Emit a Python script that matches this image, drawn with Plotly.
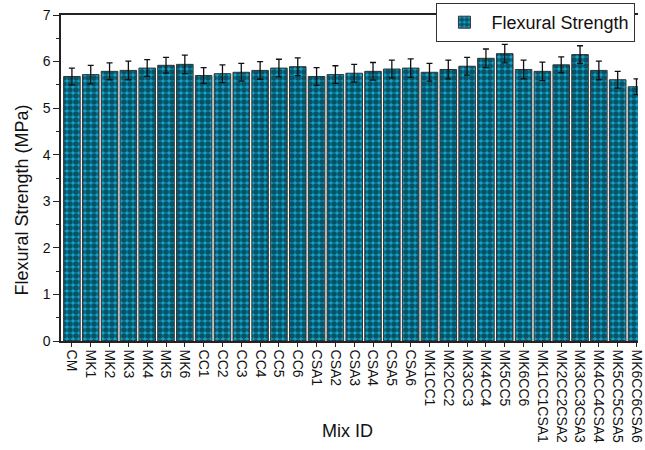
import plotly.graph_objects as go

mix_ids = ["CM", "MK1", "MK2", "MK3", "MK4", "MK5", "MK6",
           "CC1", "CC2", "CC3", "CC4", "CC5", "CC6",
           "CSA1", "CSA2", "CSA3", "CSA4", "CSA5", "CSA6",
           "MK1CC1", "MK2CC2", "MK3CC3", "MK4CC4", "MK5CC5", "MK6CC6",
           "MK1CC1CSA1", "MK2CC2CSA2", "MK3CC3CSA3", "MK4CC4CSA4", "MK5CC5CSA5", "MK6CC6CSA6"]
flexural = [5.68, 5.72, 5.79, 5.81, 5.86, 5.92, 5.94,
            5.70, 5.74, 5.77, 5.81, 5.86, 5.89,
            5.68, 5.72, 5.75, 5.79, 5.84, 5.86,
            5.77, 5.83, 5.90, 6.07, 6.17, 5.83,
            5.79, 5.93, 6.15, 5.81, 5.61, 5.46]
errors = [0.18, 0.20, 0.18, 0.20, 0.18, 0.17, 0.20,
          0.17, 0.19, 0.19, 0.19, 0.19, 0.19,
          0.19, 0.19, 0.19, 0.19, 0.19, 0.20,
          0.19, 0.20, 0.19, 0.20, 0.20, 0.20,
          0.20, 0.17, 0.19, 0.20, 0.18, 0.17]

fig = go.Figure()
fig.add_trace(go.Bar(
    x=list(range(len(mix_ids))), y=flexural, name="Flexural Strength",
    marker=dict(color="#12a3c9", line=dict(color="#333333", width=1),
                pattern=dict(shape=".", fgcolor="#000000", bgcolor="#12a3c9",
                             size=6, solidity=0.68, fillmode="overlay")),
    error_y=dict(type="data", array=errors, color="#111111", thickness=1.3, width=3),
))

font_family = "Arial, Liberation Sans, sans-serif"
pw = 645 - 61
ph = 450 - 15 - 109
fig.update_layout(
    width=645, height=450,
    margin=dict(l=61, r=0, t=15, b=109),
    paper_bgcolor="white", plot_bgcolor="white",
    bargap=0.12,
    font=dict(family=font_family, color="#111111"),
    showlegend=True,
    legend=dict(x=(441 - 61) / pw, y=1 - (42 - 15) / ph, xanchor="left", yanchor="bottom",
                bgcolor="white", bordercolor="#333333", borderwidth=1,
                font=dict(size=18, family=font_family), itemwidth=44,
                tracegroupgap=0),
    xaxis=dict(range=[-0.58, 30.08], tickmode="array",
               tickvals=list(range(len(mix_ids))), ticktext=mix_ids,
               tickangle=90, tickfont=dict(size=14), ticklabeloverflow="allow",
               showline=True, linecolor="#222222", linewidth=1.5, mirror=True,
               ticks="outside", ticklen=4, tickcolor="#222222",
               showgrid=False, zeroline=False),
    yaxis=dict(range=[0, 7], dtick=1, tickfont=dict(size=14),
               showline=True, linecolor="#222222", linewidth=1.5,
               ticks="outside", ticklen=6, tickcolor="#222222",
               minor=dict(dtick=0.5, ticks="outside", ticklen=3, tickcolor="#222222"),
               showgrid=False, zeroline=False),
    annotations=[
        dict(text="Mix ID", x=(351 - 61) / pw, y=(341 - 431) / ph,
             xref="paper", yref="paper", xanchor="center", yanchor="middle",
             showarrow=False, font=dict(size=18)),
        dict(text="Flexural Strength (MPa)", x=(22 - 61) / pw, y=(341 - 200) / ph,
             xref="paper", yref="paper", xanchor="center", yanchor="middle",
             showarrow=False, font=dict(size=18), textangle=-90),
    ],
)

fig.write_html("out.html")
